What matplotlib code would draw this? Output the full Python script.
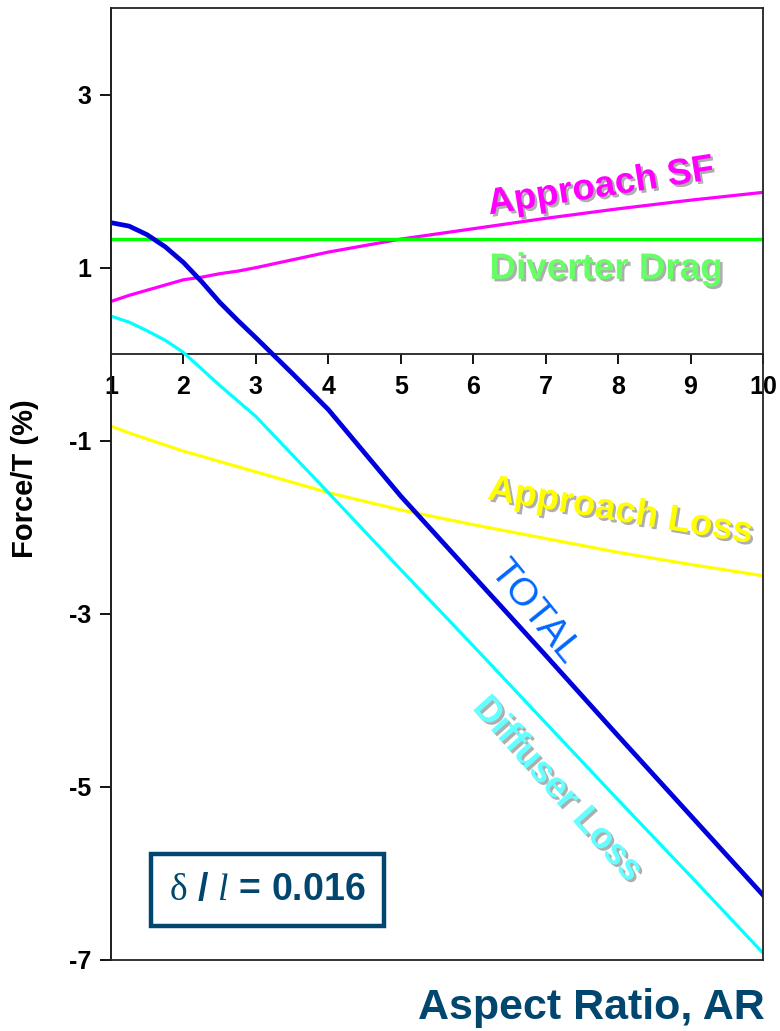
import matplotlib
matplotlib.use("Agg")
import matplotlib.pyplot as plt
import matplotlib.patheffects as pe
from matplotlib import font_manager as fm

# ---------------- data ----------------
aspect_ratio = [1, 1.25, 1.5, 1.75, 2, 2.25, 2.5, 2.75, 3, 3.5, 4, 5, 6, 7, 8, 9, 10]
diffuser_loss = [0.44, 0.37, 0.27, 0.16, 0.02, -0.17, -0.36, -0.54, -0.72, -1.16, -1.60,
                 -2.49, -3.37, -4.26, -5.15, -6.03, -6.92]
approach_sf = [0.61, 0.68, 0.74, 0.80, 0.86, 0.89, 0.93, 0.96, 1.00, 1.09, 1.18,
               1.33, 1.45, 1.57, 1.68, 1.78, 1.87]
diverter_drag = [1.33, 1.33, 1.33, 1.33, 1.33, 1.33, 1.33, 1.33, 1.33, 1.33, 1.33,
                 1.33, 1.33, 1.33, 1.33, 1.33, 1.33]
approach_loss = [-0.83, -0.91, -0.98, -1.05, -1.12, -1.18, -1.24, -1.30, -1.36, -1.48, -1.60,
                 -1.80, -1.97, -2.13, -2.29, -2.43, -2.56]
total = [1.52, 1.48, 1.38, 1.24, 1.06, 0.84, 0.60, 0.39, 0.19, -0.22, -0.64,
         -1.64, -2.56, -3.48, -4.41, -5.33, -6.25]

x_ticks = [1, 2, 3, 4, 5, 6, 7, 8, 9, 10]
y_ticks = [3, 1, -1, -3, -5, -7]

# ---------------- fonts ----------------
names = {f.name for f in fm.fontManager.ttflist}
narrow = "Liberation Sans Narrow" if "Liberation Sans Narrow" in names else "Liberation Sans"
plt.rcParams["font.family"] = ["Liberation Sans", "DejaVu Sans"]
plt.rcParams["mathtext.fontset"] = "custom"
plt.rcParams["mathtext.rm"] = "Liberation Serif"
plt.rcParams["mathtext.it"] = "Liberation Serif:italic"

fig = plt.figure(figsize=(7.8, 10.31), dpi=100)
pos = [0.1423, 0.0689, 0.8359, 0.9233]
ax = fig.add_axes(pos)

ax.plot(aspect_ratio, approach_loss, color="#FFFF00", lw=2.3, zorder=2)
ax.plot(aspect_ratio, approach_sf, color="#FF00FF", lw=2.3, zorder=3)
ax.plot(aspect_ratio, diverter_drag, color="#00FF00", lw=2.5, zorder=4)
ax.plot(aspect_ratio, diffuser_loss, color="#00FFFF", lw=2.3, zorder=5)
ax.plot(aspect_ratio, total, color="#0000DD", lw=3.4, zorder=6)

ax.set_xlim(1, 10)
ax.set_ylim(-7, 4)

# x-axis drawn through zero
ax.spines["bottom"].set_position(("data", 0))
ax.spines["top"].set_visible(False)
ax.spines["right"].set_visible(False)
for s in ["bottom", "left"]:
    ax.spines[s].set_linewidth(1.3)
    ax.spines[s].set_color("#222222")
ax.set_xticks(x_ticks)
ax.set_xticklabels([str(v) for v in x_ticks])
ax.set_yticks(y_ticks)
ax.set_yticklabels([str(v) for v in y_ticks])
ax.tick_params(axis="x", direction="out", length=7, width=1.3, pad=8,
               labelsize=18)
ax.tick_params(axis="y", direction="out", length=8, width=1.3, pad=6,
               labelsize=18)
for lab in ax.get_xticklabels() + ax.get_yticklabels():
    lab.set_fontweight("bold")

# frame box
frame = fig.add_axes(pos, facecolor="none")
frame.set_xticks([])
frame.set_yticks([])
for s in frame.spines.values():
    s.set_linewidth(1.3)
    s.set_color("#222222")

shadow = [pe.SimplePatchShadow(offset=(1.8, -1.8), shadow_rgbFace="#8c8c8c", alpha=0.7),
          pe.Normal()]

ax.text(7.76, 1.93, "Approach SF", color="#FF00FF", fontsize=26.5, fontweight="bold",
        rotation=9, ha="center", va="center", path_effects=shadow, zorder=7)
ax.text(7.83, 0.98, "Diverter Drag", color="#66FF66", fontsize=26.5, fontweight="bold",
        ha="center", va="center", path_effects=shadow, zorder=7)
ax.text(8.03, -1.82, "Approach Loss", color="#FFFF00", fontsize=26.5, fontweight="bold",
        rotation=-9.5, ha="center", va="center", path_effects=shadow, zorder=7)
ax.text(6.84, -2.98, "TOTAL", color="#0066FF", fontsize=28,
        rotation=-51, ha="center", va="center", zorder=7)
ax.text(7.16, -5.03, "Diffuser Loss", color="#66FFFF", fontsize=26.5, fontweight="bold",
        rotation=-48, ha="center", va="center", path_effects=shadow, zorder=7)

ax.text(3.16, -6.19, r"$\mathrm{\delta}$ / $\mathit{l}$ = 0.016", color="#00466E",
        fontsize=27, fontweight="bold", family=[narrow, "DejaVu Sans"],
        ha="center", va="center", zorder=8,
        bbox=dict(boxstyle="square,pad=0.48", facecolor="white",
                  edgecolor="#00466E", linewidth=3.2))

fig.text(0.981, 0.022, "Aspect Ratio, AR", color="#00466E", fontsize=31,
         fontweight="bold", family=[narrow, "DejaVu Sans"], ha="right", va="center")
fig.text(0.032, 0.536, "Force/T (%)", color="black", fontsize=21, fontweight="bold",
         rotation=90, ha="center", va="center")

fig.savefig("out.png", dpi=100)
